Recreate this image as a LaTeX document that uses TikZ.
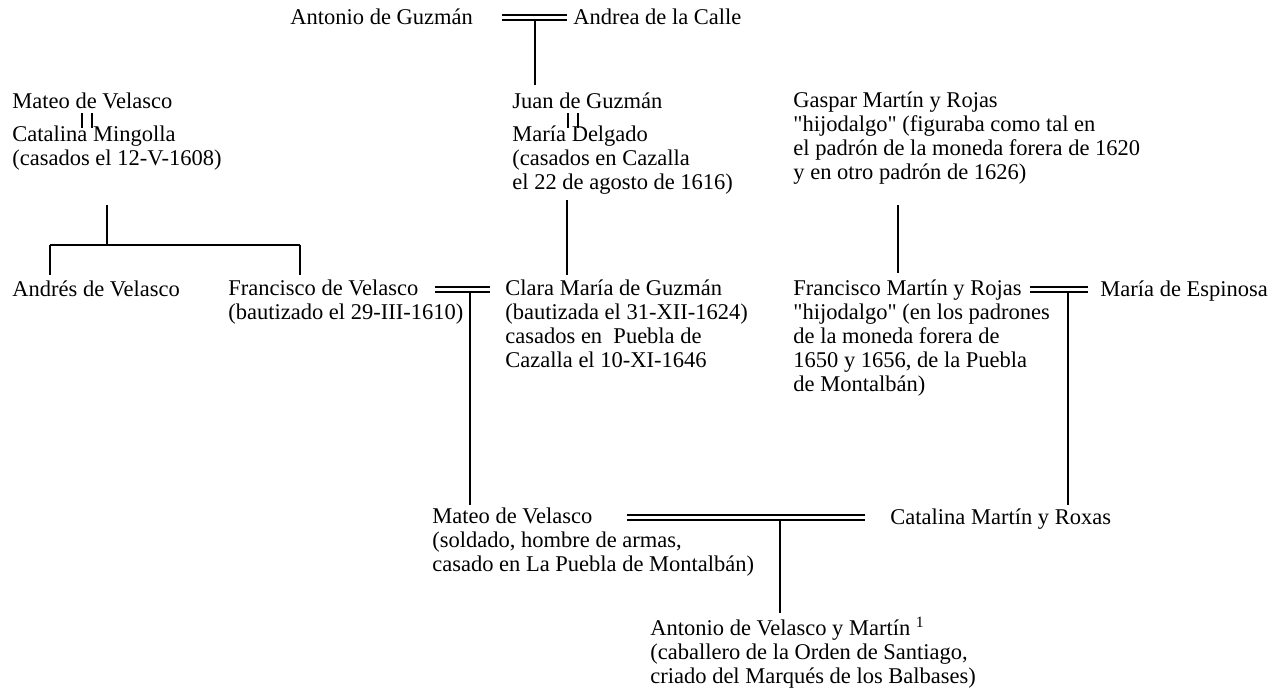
\documentclass[tikz,border=0pt]{standalone}
\usepackage{fontspec}
\setmainfont{Liberation Serif}
\newcommand{\comilla}{\textquotedbl}
\tikzset{
    persona/.style={anchor=north west, inner sep=0pt, align=left, font=\fontsize{11.25}{12}\selectfont, execute at begin node=\strut},
    hijo/.style={line width=0.9pt},
    boda/.style={line width=0.55pt},
}
\begin{document}
\begin{tikzpicture}[x=0.5pt, y=-0.5pt]   % 1px = 0.5pt
    \useasboundingbox (0,0) rectangle (1282,691);

    % 人名
    \node[persona] (antonioG) at (290,7) {Antonio de Guzmán};
    \node[persona] (andrea) at (573,7) {Andrea de la Calle};
    \node[persona] (mateoA) at (12,91) {Mateo de Velasco};
    \node[persona] (catalinaA) at (12,125) {Catalina Mingolla\\(casados el 12-V-1608)};
    \node[persona] (juan) at (512,91) {Juan de Guzmán};
    \node[persona] (mariaD) at (512,125) {María Delgado\\(casados en Cazalla\\el 22 de agosto de 1616)};
    \node[persona] (gaspar) at (793,91) {Gaspar Martín y Rojas\\\comilla hijodalgo\comilla{} (figuraba como tal en\\el padrón de la moneda forera de 1620\\y en otro padrón de 1626)};
    \node[persona] (andres) at (12,279) {Andrés de Velasco};
    \node[persona] (francisco) at (228,279) {Francisco de Velasco\\(bautizado el 29-III-1610)};
    \node[persona] (clara) at (505,279) {Clara María de Guzmán\\(bautizada el 31-XII-1624)\\casados en \ Puebla de\\Cazalla el 10-XI-1646};
    \node[persona] (franciscoM) at (793,279) {Francisco Martín y Rojas\\\comilla hijodalgo\comilla{} (en los padrones\\de la moneda forera de\\1650 y 1656, de la Puebla\\de Montalbán)};
    \node[persona] (mariaE) at (1100,279) {María de Espinosa};
    \node[persona] (mateoB) at (432,507) {Mateo de Velasco\\(soldado, hombre de armas,\\casado en La Puebla de Montalbán)};
    \node[persona] (catalinaB) at (890,507) {Catalina Martín y Roxas};
    \node[persona] (antonioV) at (650,617) {Antonio de Velasco y Martín \textsuperscript{1}\\(caballero de la Orden de Santiago,\\criado del Marqués de los Balbases)};

    % 婚姻線
    \coordinate (b1L) at (502,15);
    \coordinate (b1R) at (567,15);
    \coordinate (b2T) at (82,113);
    \coordinate (b2B) at (82,128);
    \coordinate (b3T) at (568,113);
    \coordinate (b3B) at (568,128);
    \coordinate (b4L) at (435,287);
    \coordinate (b4R) at (490,287);
    \coordinate (b5L) at (1030,287);
    \coordinate (b5R) at (1088,287);
    \coordinate (b6L) at (627,515);
    \coordinate (b6R) at (865,515);
    \foreach \a/\b in {b1L/b1R, b4L/b4R, b5L/b5R, b6L/b6R} {
        \draw[boda] (\a) -- (\b);
        \draw[boda] ([yshift=-2.5pt]\a) -- ([yshift=-2.5pt]\b);
    }
    \foreach \a/\b in {b2T/b2B, b3T/b3B} {
        \draw[boda] (\a) -- (\b);
        \draw[boda] ([xshift=5pt]\a) -- ([xshift=5pt]\b);
    }

    % 子女線
    \coordinate (h1) at (535,20);
    \coordinate (h2) at (107,205);
    \coordinate (h2m) at (107,245);
    \coordinate (h2a) at (50,245);
    \coordinate (h2b) at (300,245);
    \coordinate (h3) at (567,200);
    \coordinate (h4) at (898,205);
    \coordinate (h5) at (470,292);
    \coordinate (h6) at (1068,292);
    \coordinate (h7) at (780,520);
    \draw[hijo] (h1) -- ([yshift=3pt]h1 |- juan.north);
    \draw[hijo] (h2) -- (h2m);
    \draw[hijo] (h2a) -- (h2b);
    \draw[hijo] (h2a) -- ([yshift=2pt]h2a |- andres.north);
    \draw[hijo] (h2b) -- ([yshift=2pt]h2b |- francisco.north);
    \draw[hijo] (h3) -- ([yshift=2pt]h3 |- clara.north);
    \draw[hijo] (h4) -- ([yshift=3pt]h4 |- franciscoM.north);
    \draw[hijo] (h5) -- ([yshift=1pt]h5 |- mateoB.north);
    \draw[hijo] (h6) -- ([yshift=1pt]h6 |- catalinaB.north);
    \draw[hijo] (h7) -- ([yshift=2pt]h7 |- antonioV.north);
\end{tikzpicture}
\end{document}
